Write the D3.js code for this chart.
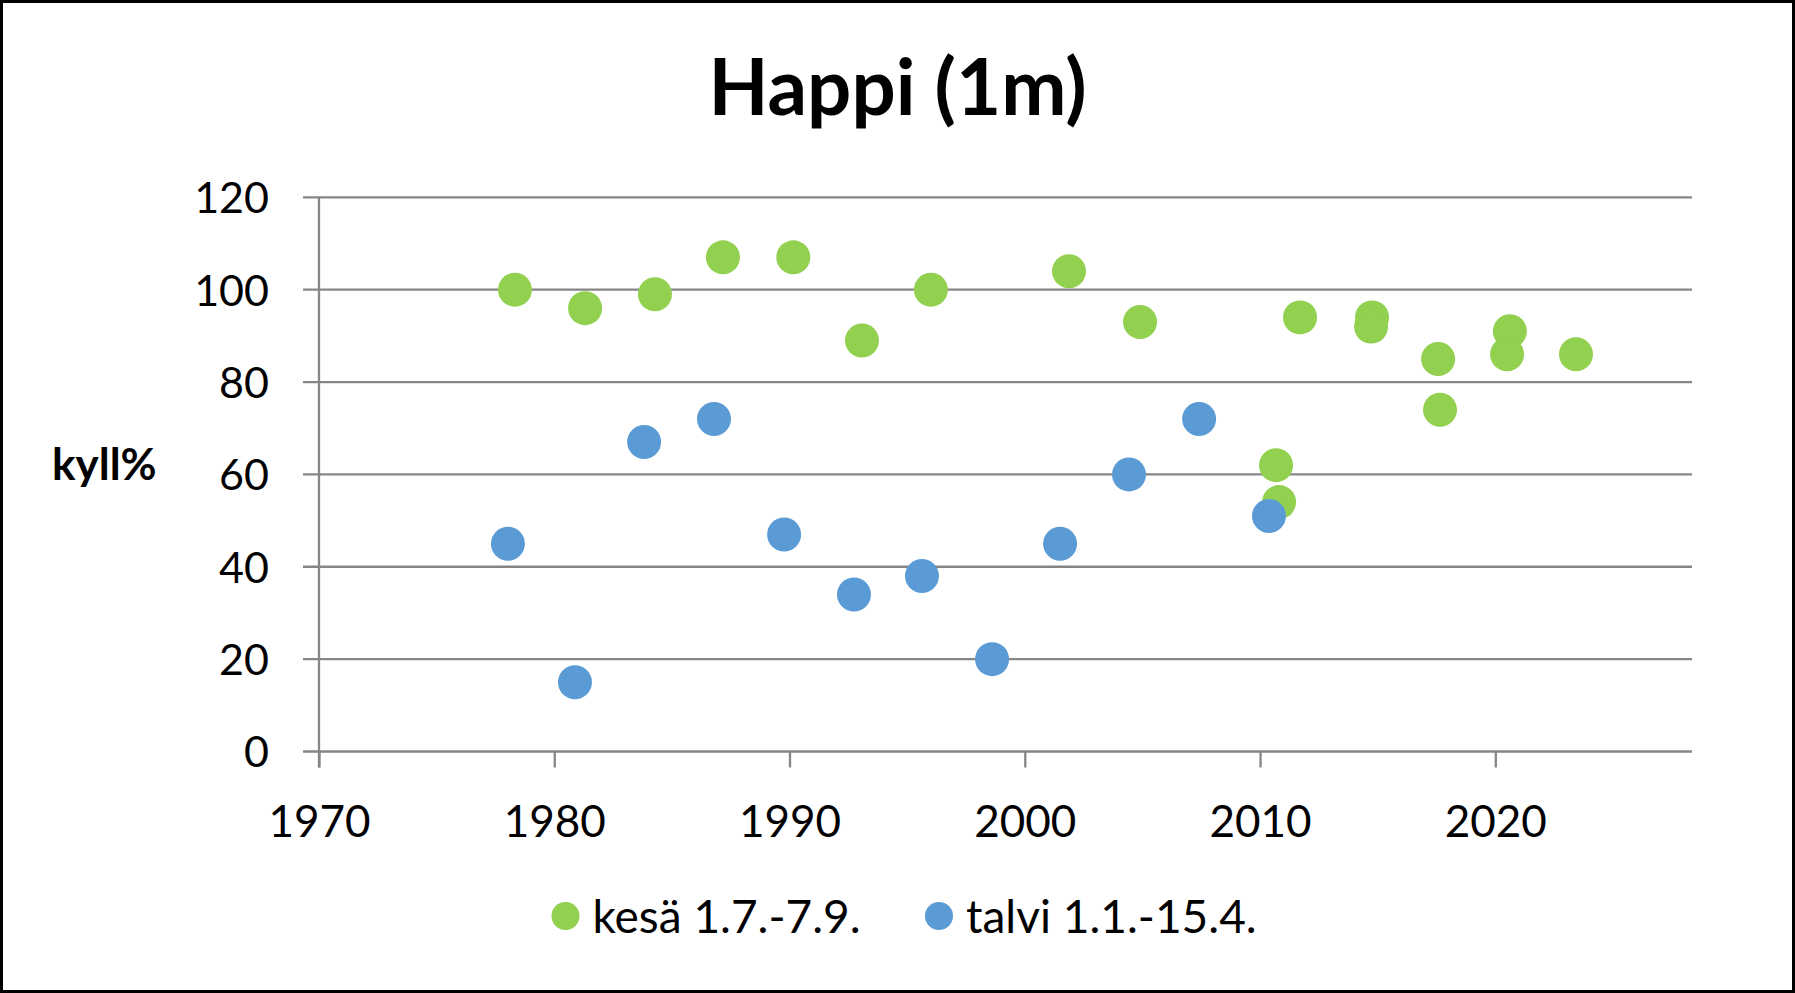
<!DOCTYPE html>
<html><head><meta charset="utf-8">
<script src="https://cdn.jsdelivr.net/npm/d3@7"></script>
<style>
body{margin:0;background:#fff}
svg{display:block}
text{font-family:Lato,"Open Sans",sans-serif;fill:#000}
</style>
</head><body>
<svg id="chart" width="1795" height="993"></svg>
<script>
// ---- data ----
const chartTitle = "Happi (1m)";
const yAxisTitle = "kyll%";
const seriesNames = ["kesä 1.7.-7.9.", "talvi 1.1.-15.4."];
const kesaYears  = [1978.33,1981.31,1984.28,1987.17,1990.16,1993.08,1996.01,2001.88,2004.90,2010.68,2010.81,2011.70,2014.76,2014.72,2017.57,2017.65,2020.62,2020.50,2023.43];
const kesaValues = [100,96,99,107,107,89,100,104,93,62,54,94,94,92,85,74,91,86,86];
const talviYears  = [1978.03,1980.88,1983.82,1986.79,1989.77,1992.74,1995.63,1998.61,2001.50,2004.43,2007.41,2010.38];
const talviValues = [45,15,67,72,47,34,38,20,45,60,72,51];
const xTicks = [1970,1980,1990,2000,2010,2020];
const yTicks = [0,20,40,60,80,100,120];
const colors = ["#92D050","#5B9BD5"];

// ---- layout ----
(function(){
const W = 1795, H = 993;
const pL = 319, pR = 1692, pT = 197.3, pB = 751.5;
const svg = d3.select("#chart");

svg.append("rect").attr("x",1.5).attr("y",1.5).attr("width",W-3).attr("height",H-3)
  .attr("fill","#fff").attr("stroke","#000").attr("stroke-width",3);

const x = d3.scaleLinear().domain([1970,2020]).range([pL,1495.3]);
const y = d3.scaleLinear().domain([0,120]).range([pB,pT]);

const gridColor = "#868686";

// gridlines
svg.append("g").selectAll("line").data(yTicks).join("line")
  .attr("x1",pL-16).attr("x2",pR)
  .attr("y1",d=>y(d)).attr("y2",d=>y(d))
  .attr("stroke",gridColor).attr("stroke-width",2.3);

// y axis line
svg.append("line").attr("x1",pL).attr("x2",pL).attr("y1",pT).attr("y2",pB+16)
  .attr("stroke",gridColor).attr("stroke-width",2.3);

// y axis labels
const yAxis = d3.axisLeft(y).tickValues(yTicks).tickSize(0).tickPadding(50);
const gy = svg.append("g").attr("transform",`translate(${pL},0)`).call(yAxis);
gy.select(".domain").remove();
gy.selectAll("text").attr("font-size",43).attr("fill","#000")
  .attr("font-family","Lato, 'Open Sans', sans-serif").attr("dy","0.36em");

// x axis
const xAxis = d3.axisBottom(x).tickValues(xTicks).tickSize(16).tickPadding(38).tickFormat(d3.format("d"));
const gx = svg.append("g").attr("transform",`translate(0,${pB})`).call(xAxis);
gx.select(".domain").remove();
gx.selectAll(".tick line").attr("stroke",gridColor).attr("stroke-width",2.3);
gx.selectAll("text").attr("font-size",44).attr("fill","#000")
  .attr("font-family","Lato, 'Open Sans', sans-serif");

// y title
svg.append("text").attr("x",52).attr("y",480).attr("font-size",44).attr("font-weight","bold")
  .text(yAxisTitle);

// title
svg.append("text").attr("x",W/2).attr("y",115).attr("text-anchor","middle")
  .attr("font-size",78).attr("font-weight","bold").text(chartTitle);

// points
const kesa = kesaYears.map((d,i)=>({x:d,y:kesaValues[i]}));
const talvi = talviYears.map((d,i)=>({x:d,y:talviValues[i]}));
[kesa,talvi].forEach((s,i)=>{
  svg.append("g").selectAll("circle").data(s).join("circle")
    .attr("cx",d=>x(d.x)).attr("cy",d=>y(d.y)).attr("r",17)
    .attr("fill",colors[i]);
});

// legend
const legendX = [565.5, 939];
const lg = svg.append("g");
seriesNames.forEach((n,i)=>{
  lg.append("circle").attr("cx",legendX[i]).attr("cy",916).attr("r",14).attr("fill",colors[i]);
  lg.append("text").attr("x",legendX[i]+27).attr("y",933).attr("font-size",46).text(n);
});
})();
</script>
</body></html>
